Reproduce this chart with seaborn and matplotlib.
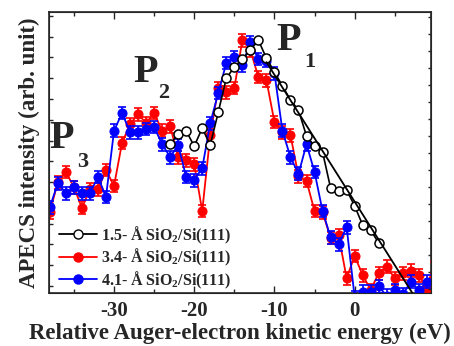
import numpy as np
import seaborn as sns
import matplotlib
import matplotlib.pyplot as plt
from matplotlib.lines import Line2D

sns.set_style("ticks")
matplotlib.rcParams["font.family"] = ["Liberation Serif", "DejaVu Serif"]
matplotlib.rcParams["font.weight"] = "bold"
matplotlib.rcParams["mathtext.default"] = "regular"
matplotlib.rcParams["axes.unicode_minus"] = False

# data (arb. units, 0 = bottom of frame, 100 = top)
e_blue = list(range(-38, 10))
y_blue = [30.6, 39.1, 35.6, 37.7, 35.6, 35.6, 41.3, 34.2, 57.7, 64.1,
          57.3, 57.3, 58.4, 59.1, 53.0, 48.4, 52.7, 41.3, 40.2, 44.5,
          60.5, 71.2, 81.9, 84.0, 81.1, 89.3, 83.3, 82.6, 78.3, 57.7,
          48.4, 42.4, 53.0, 43.1, 29.2, 19.9, 17.4, 23.5, -1.5, 0.5,
          0.5, 2.4, -1.0, 1.0, -0.5, 4.0, 1.0, 4.0]

e_red = list(range(-38, 11))
y_red = [28.8, 39.5, 43.1, 37.7, 30.3, 37.0, 37.0, 43.8, 38.1, 53.4,
         60.1, 63.7, 60.5, 64.1, 57.7, 59.4, 48.4, 47.3, 45.9, 29.2,
         56.2, 73.0, 71.5, 73.0, 90.0, 86.5, 76.9, 75.8, 60.9, 57.3,
         56.2, 41.6, 39.9, 29.2, 28.8, 19.6, 20.6, 5.3, 13.2, 6.4,
         1.1, 7.1, 9.3, 5.3, 7.1, 7.9, 6.4, 1.8, 11.4]

e_black = list(range(-23, 4))
y_black = [53.0, 56.6, 57.7, 52.3, 58.7, 52.7, 64.4, 76.5, 80.4, 83.3,
           86.5, 90.0, 83.6, 78.7, 73.7, 68.7, 65.1, 55.9, 52.3, 50.2,
           37.4, 36.3, 36.7, 31.0, 24.2, 22.4, 17.8]

# linear fit of the 1.5 A tail
e_fit = [-11, 7.2]
y_fit = [82.2, 0.0]

err_red = 2.3
err_blue = 2.3

labels = ["1.5- Å SiO$_2$/Si(111)", "3.4- Å SiO$_2$/Si(111)", "4.1- Å SiO$_2$/Si(111)"]

fig, ax = plt.subplots(figsize=(4.54, 3.46), dpi=100)
fig.subplots_adjust(left=0.108, right=0.949, bottom=0.153, top=0.965)

ax.errorbar(e_red, y_red, yerr=err_red, fmt="none", ecolor="red",
            elinewidth=1.2, capsize=3, capthick=1.2, zorder=2)
sns.lineplot(x=e_red, y=y_red, color="red", marker="o", markersize=6.5,
             markeredgecolor="red", linewidth=1.3, ax=ax, zorder=3)

ax.errorbar(e_blue, y_blue, yerr=err_blue, fmt="none", ecolor="blue",
            elinewidth=1.2, capsize=3, capthick=1.2, zorder=4)
sns.lineplot(x=e_blue, y=y_blue, color="blue", marker="o", markersize=6.5,
             markeredgecolor="blue", linewidth=1.3, ax=ax, zorder=5)

sns.lineplot(x=e_black, y=y_black, color="black", marker="o", markersize=6.5,
             markerfacecolor="white", markeredgecolor="black",
             markeredgewidth=1.1, linewidth=1.2, ax=ax, zorder=6)
sns.lineplot(x=e_fit, y=y_fit, color="black", linewidth=1.3, ax=ax, zorder=6)

ax.set_xlim(-38.1, 9.5)
ax.set_ylim(0, 100)
ax.set_xticks([-30, -20, -10, 0])
ax.set_xticks(np.arange(-35, 10, 10), minor=True)
ax.set_yticks(np.arange(2.5, 100, 7.4))
ax.set_yticklabels([])
ax.tick_params(axis="x", which="major", direction="in", length=5, width=1,
               top=True, labelsize=15, pad=6)
ax.tick_params(axis="x", which="minor", direction="in", length=3, width=1, top=True)
ax.tick_params(axis="y", direction="in", length=3, width=1)
for s in ax.spines.values():
    s.set_linewidth(1.2)

ax2 = ax.twinx()
ax2.set_ylim(0, 100)
ax2.set_yticks(np.arange(1.5, 100, 6.05))
ax2.set_yticklabels([])
ax2.tick_params(axis="y", direction="in", length=2.5, width=1)

ax.set_xlabel("Relative Auger-electron kinetic energy (eV)", fontsize=16.5,
              fontweight="bold", labelpad=1)
ax.set_ylabel("APECS intensity (arb. unit)", fontsize=16.5, fontweight="bold",
              labelpad=3)

# peak labels
ax.text(-38.0, 51.6, "P", fontsize=29, fontweight="bold")
ax.text(-34.6, 44.8, "3", fontsize=16, fontweight="bold")
ax.text(-27.6, 75.1, "P", fontsize=29, fontweight="bold")
ax.text(-24.5, 69.4, "2", fontsize=16, fontweight="bold")
ax.text(-9.7, 86.5, "P", fontsize=29, fontweight="bold")
ax.text(-6.3, 80.4, "1", fontsize=16, fontweight="bold")

handles = [
    Line2D([], [], color="black", marker="o", markersize=6.5, markerfacecolor="white",
           markeredgecolor="black", linewidth=1.3),
    Line2D([], [], color="red", marker="o", markersize=6.5, linewidth=1.3),
    Line2D([], [], color="blue", marker="o", markersize=6.5, linewidth=1.3),
]
ax.legend(handles, labels, loc="lower left", bbox_to_anchor=(0.0, -0.025),
          frameon=False, handlelength=2.4, handletextpad=0.25,
          labelspacing=0.08, borderaxespad=0.2,
          prop={"family": ["Liberation Serif"], "weight": "bold", "size": 11.5})

fig.savefig("out.png", dpi=100)
